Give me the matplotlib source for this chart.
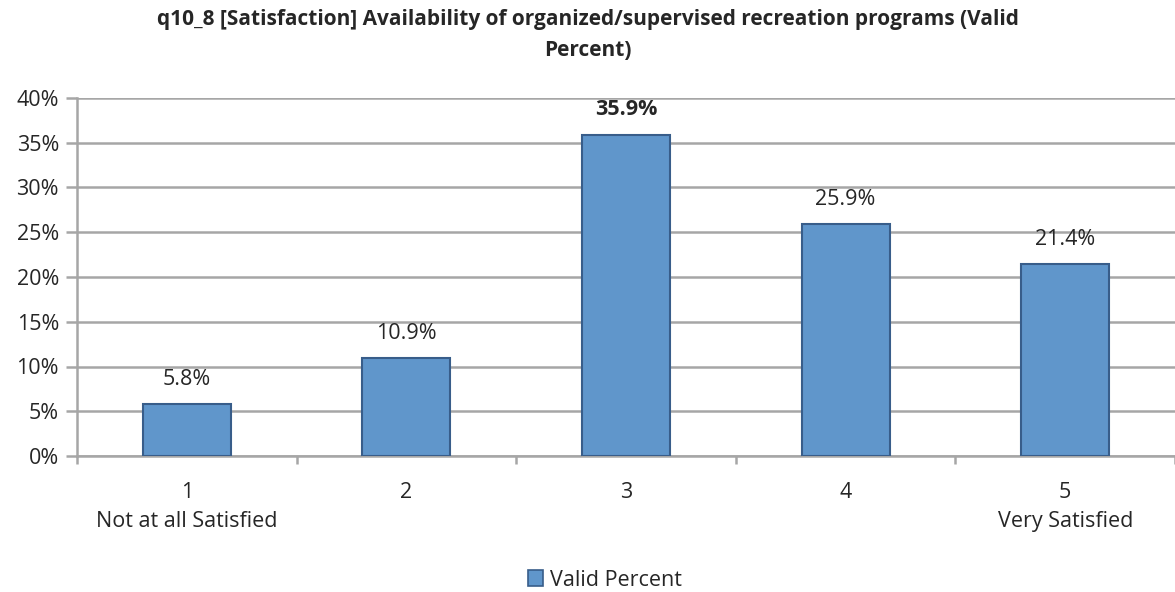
import numpy as np
import matplotlib
matplotlib.use("Agg")
import matplotlib.pyplot as plt
from matplotlib.patches import Patch

plt.rcParams['font.family'] = ['Open Sans', 'DejaVu Sans']

categories = ["1\nNot at all Satisfied", "2", "3", "4", "5\nVery Satisfied"]
values = [5.8, 10.9, 35.9, 25.9, 21.4]
label_texts = ["5.8%", "10.9%", "35.9%", "25.9%", "21.4%"]
bold_label = 2
yticks = [0, 5, 10, 15, 20, 25, 30, 35, 40]

bar_color = "#6096CB"
edge_color = "#385D8A"
grid_color = "#A6A6A6"
text_color = "#262626"

fig = plt.figure(figsize=(11.75, 5.92), dpi=100)
ax = fig.add_axes([77 / 1175, 1 - 456 / 592, 1 - 77 / 1175, (456 - 98) / 592])

x = np.arange(len(values))
ax.bar(x, values, width=0.40, color=bar_color, edgecolor=edge_color, linewidth=1.5, zorder=3)

# data labels ~26px above each bar
for i, (v, t) in enumerate(zip(values, label_texts)):
    ax.annotate(t, (x[i], v), xytext=(0, 18), textcoords="offset points",
                ha="center", va="center", fontsize=15.5, color=text_color,
                fontweight="bold" if i == bold_label else "normal")

ax.set_xlim(-0.5, len(values) - 0.5)
ax.set_ylim(0, 40)
ax.set_yticks(yticks)
ax.set_yticklabels([f"{t}%" for t in yticks])
ax.yaxis.grid(True, color=grid_color, linewidth=1.8, zorder=0)
ax.set_axisbelow(True)

ax.set_xticks(x)
ax.set_xticklabels(categories, linespacing=1.45)
ax.set_xticks(np.arange(len(values) + 1) - 0.5, minor=True)
ax.tick_params(axis="x", which="major", length=0, pad=19, labelsize=15.5, labelcolor=text_color)
ax.tick_params(axis="x", which="minor", length=6, width=1.8, color=grid_color, direction="out")
ax.tick_params(axis="y", length=8, width=1.8, color=grid_color, pad=5, labelsize=15.5, labelcolor=text_color)

for s in ["top", "right"]:
    ax.spines[s].set_visible(False)
for s in ["left", "bottom"]:
    ax.spines[s].set_color(grid_color)
    ax.spines[s].set_linewidth(1.8)

fig.text(0.5, 1 - 35 / 592,
         "q10_8 [Satisfaction] Availability of organized/supervised recreation programs (Valid\nPercent)",
         ha="center", va="center", fontsize=15, fontweight="bold", color=text_color, linespacing=1.6)

handle = Patch(facecolor=bar_color, edgecolor=edge_color, linewidth=1.2)
fig.legend([handle], ["Valid Percent"], loc="center", bbox_to_anchor=(605 / 1175, 1 - 580 / 592),
           frameon=False, fontsize=15.5, handlelength=0.7, handleheight=0.7, handletextpad=0.3,
           labelcolor=text_color)

fig.savefig("out.png", dpi=100)
